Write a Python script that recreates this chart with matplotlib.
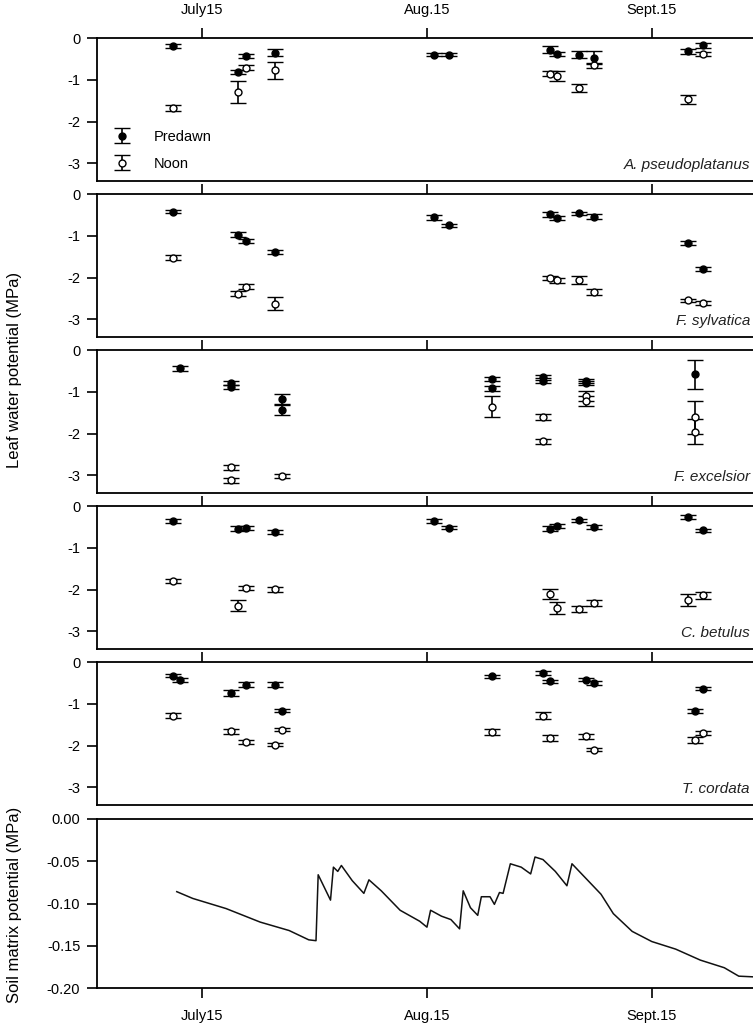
import numpy as np
import matplotlib.pyplot as plt

plt.rcParams['font.family'] = ['Liberation Sans', 'DejaVu Sans']

# days counted from July 1 (July15 = 14, Aug.15 = 45, Sept.15 = 76)
tick_days = [14, 45, 76]
tick_labels = ['July15', 'Aug.15', 'Sept.15']

species = ['A. pseudoplatanus', 'F. sylvatica', 'F. excelsior', 'C. betulus', 'T. cordata']

# A. pseudoplatanus
ap_day = [10, 19, 20, 24, 46, 48, 62, 63, 66, 68, 81, 83]
ap_pre = [-0.2, -0.82, -0.43, -0.35, -0.4, -0.4, -0.28, -0.39, -0.4, -0.47, -0.32, -0.17]
ap_pre_err = [0.05, 0.05, 0.05, 0.08, 0.04, 0.04, 0.08, 0.05, 0.08, 0.15, 0.06, 0.06]
ap_noon = [-1.68, -1.29, -0.71, -0.77, np.nan, np.nan, -0.85, -0.9, -1.19, -0.65, -1.47, -0.39]
ap_noon_err = [0.07, 0.26, 0.06, 0.2, 0, 0, 0.06, 0.12, 0.1, 0.06, 0.1, 0.05]

# F. sylvatica
fs_day = [10, 19, 20, 24, 46, 48, 62, 63, 66, 68, 81, 83]
fs_pre = [-0.42, -0.98, -1.13, -1.38, -0.56, -0.75, -0.48, -0.58, -0.46, -0.54, -1.18, -1.79]
fs_pre_err = [0.04, 0.06, 0.05, 0.05, 0.06, 0.04, 0.06, 0.05, 0.04, 0.05, 0.05, 0.04]
fs_noon = [-1.52, -2.38, -2.22, -2.62, np.nan, np.nan, -2.0, -2.06, -2.06, -2.34, -2.54, -2.61]
fs_noon_err = [0.05, 0.06, 0.06, 0.15, 0, 0, 0.05, 0.06, 0.1, 0.07, 0.04, 0.04]

# F. excelsior
fe_day = [11, 18, 18, 25, 25, 54, 54, 61, 61, 67, 67, 82]
fe_pre = [-0.44, -0.78, -0.88, -1.17, -1.44, -0.7, -0.92, -0.65, -0.74, -0.74, -0.78, -0.58]
fe_pre_err = [0.06, 0.05, 0.05, 0.12, 0.12, 0.05, 0.05, 0.06, 0.06, 0.05, 0.05, 0.35]
fe_noon = [np.nan, -2.81, -3.12, -3.01, np.nan, -1.36, np.nan, -1.6, -2.18, -1.09, -1.21, -1.61]
fe_noon_err = [0, 0.05, 0.05, 0.04, 0, 0.25, 0, 0.08, 0.06, 0.12, 0.12, 0.4]
fe_noon2_day = [82]
fe_noon2 = [-1.96]
fe_noon2_err = [0.3]

# C. betulus
cb_day = [10, 19, 20, 24, 46, 48, 62, 63, 66, 68, 81, 83]
cb_pre = [-0.36, -0.54, -0.52, -0.62, -0.36, -0.52, -0.54, -0.47, -0.34, -0.5, -0.26, -0.58]
cb_pre_err = [0.04, 0.05, 0.05, 0.05, 0.04, 0.04, 0.05, 0.05, 0.04, 0.04, 0.05, 0.04]
cb_noon = [-1.79, -2.38, -1.96, -1.99, np.nan, np.nan, -2.1, -2.44, -2.46, -2.32, -2.24, -2.14]
cb_noon_err = [0.04, 0.12, 0.04, 0.06, 0, 0, 0.12, 0.15, 0.08, 0.06, 0.14, 0.08]

# T. cordata
tc_day = [10, 11, 18, 20, 24, 25, 54, 61, 62, 67, 68, 82, 83]
tc_pre = [-0.33, -0.43, -0.74, -0.54, -0.54, -1.16, -0.34, -0.26, -0.46, -0.42, -0.5, -1.17, -0.64]
tc_pre_err = [0.04, 0.04, 0.08, 0.05, 0.05, 0.04, 0.04, 0.04, 0.04, 0.04, 0.04, 0.04, 0.04]
tc_noon = [-1.28, np.nan, -1.66, -1.92, -1.98, -1.62, -1.68, -1.28, -1.82, -1.78, -2.1, -1.86, -1.69]
tc_noon_err = [0.06, 0, 0.05, 0.05, 0.04, 0.04, 0.07, 0.09, 0.08, 0.05, 0.04, 0.07, 0.05]

# soil matrix potential
soil_day = [10.5, 12.7, 17.3, 22, 26, 28.7, 29.7, 30, 31.7, 32.1, 32.7, 33.2, 34.7, 36.3, 37, 38.7,
            41.3, 44, 45, 45.5, 47, 48.3, 49.5, 50, 51, 52, 52.5, 53.7, 54.3, 55, 55.5, 56.5, 58,
            59.3, 59.9, 61, 62.7, 64.3, 65, 67, 69, 70.7, 73.3, 76, 79.3, 82.7, 86, 88, 90.5]
soil_psi = [-0.086, -0.094, -0.106, -0.122, -0.132, -0.143, -0.144, -0.066, -0.096, -0.057, -0.062,
            -0.055, -0.073, -0.088, -0.072, -0.085, -0.108, -0.121, -0.128, -0.108, -0.115, -0.119,
            -0.130, -0.085, -0.105, -0.114, -0.092, -0.092, -0.101, -0.087, -0.088, -0.053, -0.057,
            -0.065, -0.045, -0.048, -0.062, -0.079, -0.053, -0.071, -0.089, -0.112, -0.133, -0.145,
            -0.154, -0.167, -0.176, -0.186, -0.187]

leaf = [
    (ap_day, ap_pre, ap_pre_err, ap_noon, ap_noon_err),
    (fs_day, fs_pre, fs_pre_err, fs_noon, fs_noon_err),
    (fe_day, fe_pre, fe_pre_err, fe_noon, fe_noon_err),
    (cb_day, cb_pre, cb_pre_err, cb_noon, cb_noon_err),
    (tc_day, tc_pre, tc_pre_err, tc_noon, tc_noon_err),
]

W, H = 753, 1036
fig = plt.figure(figsize=(W / 100, H / 100), dpi=100)

left = 97 / W
axes = []
# (top, height) in pixels for the five leaf panels and the soil panel
boxes = [(38 + i * 156, 143) for i in range(5)] + [(819, 169)]
for y0, hh in boxes:
    ax = fig.add_axes([left, 1 - (y0 + hh) / H, 1 - left + 0.01, hh / H])
    axes.append(ax)

ebkw = dict(linestyle='none', ecolor='black', elinewidth=1.2, capsize=6, capthick=1.2,
            markersize=5, markeredgecolor='black', markeredgewidth=1)

for i, ax in enumerate(axes[:5]):
    d, p, pe, n, ne = leaf[i]
    ax.errorbar(d, n, yerr=ne, fmt='o', markerfacecolor='white', label='Noon', **ebkw)
    ax.errorbar(d, p, yerr=pe, fmt='o', markerfacecolor='black', label='Predawn', **ebkw)
    if i == 2:
        ax.errorbar(fe_noon2_day, fe_noon2, yerr=fe_noon2_err, fmt='o', markerfacecolor='white', **ebkw)
    ax.set_ylim(-3.42, 0)
    ax.set_yticks([0, -1, -2, -3])
    ax.set_yticklabels(['0', '-1', '-2', '-3'])
    ax.text(0.995 * 90 / 91, 0.06, species[i], transform=ax.transAxes, ha='right', va='bottom',
            fontsize=11, style='italic', color='#222222')
    ax.xaxis.tick_top()
    ax.set_xticks(tick_days)
    if i == 0:
        ax.set_xticklabels(tick_labels, fontsize=10.5)
    else:
        ax.set_xticklabels([])

h, l = axes[0].get_legend_handles_labels()
axes[0].legend(h[::-1], l[::-1], loc='lower left', frameon=False, fontsize=10.5,
               handletextpad=1.2, labelspacing=0.9, borderaxespad=0.3)

ax = axes[5]
ax.plot(soil_day, soil_psi, color='#111111', linewidth=1.1)
ax.set_ylim(-0.2, 0)
ax.set_yticks([0, -0.05, -0.10, -0.15, -0.20])
ax.set_yticklabels(['0.00', '-0.05', '-0.10', '-0.15', '-0.20'])
ax.set_xticks(tick_days)
ax.set_xticklabels(tick_labels, fontsize=10.5)

for ax in axes:
    ax.set_xlim(-0.5, 91)
    ax.tick_params(direction='out', length=7, width=1.2, labelsize=10.5, pad=5)
    ax.tick_params(axis='x', pad=8)
    for s in ax.spines.values():
        s.set_linewidth(1.3)
    ax.spines['right'].set_visible(False)

fig.text(15 / W, 1 - 370 / H, 'Leaf water potential (MPa)', rotation=90, ha='center', va='center', fontsize=12)
fig.text(15 / W, 1 - 905 / H, 'Soil matrix potential (MPa)', rotation=90, ha='center', va='center', fontsize=12)

fig.savefig('out.png', dpi=100)
